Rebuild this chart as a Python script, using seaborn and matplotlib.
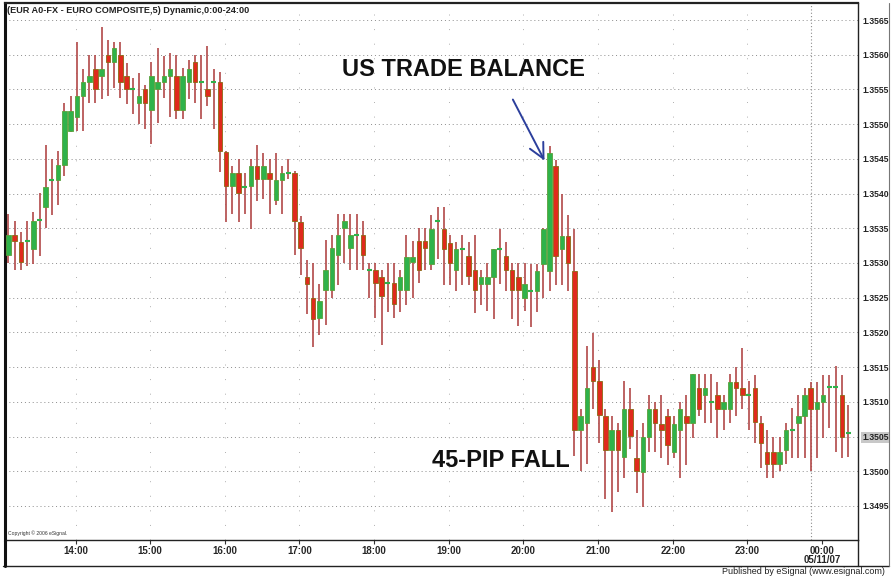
import numpy as np
import pandas as pd
import seaborn as sns
import matplotlib.pyplot as plt
from matplotlib.lines import Line2D

# 5-minute EUR/USD candles, 13:05 -> 00:20
opens = [1.35311, 1.35340, 1.35330, 1.35332, 1.35320, 1.35362, 1.35381, 1.35420, 1.35420, 1.35441,
         1.35490, 1.35510, 1.35540, 1.35560, 1.35579, 1.35569, 1.35600, 1.35590, 1.35600, 1.35569,
         1.35550, 1.35530, 1.35550, 1.35521, 1.35550, 1.35561, 1.35570, 1.35569, 1.35521, 1.35561,
         1.35589, 1.35561, 1.35550, 1.35561, 1.35560, 1.35460, 1.35411, 1.35430, 1.35410, 1.35411,
         1.35440, 1.35421, 1.35430, 1.35391, 1.35420, 1.35430, 1.35430, 1.35359, 1.35280, 1.35250,
         1.35221, 1.35261, 1.35261, 1.35311, 1.35351, 1.35321, 1.35340, 1.35340, 1.35290, 1.35290,
         1.35280, 1.35271, 1.35271, 1.35261, 1.35261, 1.35301, 1.35331, 1.35331, 1.35299, 1.35360,
         1.35349, 1.35329, 1.35290, 1.35320, 1.35310, 1.35290, 1.35270, 1.35270, 1.35280, 1.35320,
         1.35310, 1.35290, 1.35280, 1.35250, 1.35260, 1.35260, 1.35299, 1.35289, 1.35439, 1.35320,
         1.35339, 1.35288, 1.35060, 1.35070, 1.35150, 1.35130, 1.35080, 1.35030, 1.35060, 1.35021,
         1.35090, 1.35019, 1.34999, 1.35050, 1.35089, 1.35068, 1.35079, 1.35028, 1.35060, 1.35079,
         1.35069, 1.35120, 1.35110, 1.35100, 1.35110, 1.35089, 1.35089, 1.35129, 1.35120, 1.35110,
         1.35120, 1.35069, 1.35028, 1.35028, 1.35010, 1.35031, 1.35060, 1.35069, 1.35079, 1.35120,
         1.35089, 1.35100, 1.35121, 1.35121, 1.35110, 1.35055]
highs = [1.35370, 1.35360, 1.35345, 1.35360, 1.35374, 1.35401, 1.35470, 1.35450, 1.35462, 1.35531,
         1.35540, 1.35619, 1.35580, 1.35600, 1.35600, 1.35640, 1.35621, 1.35619, 1.35619, 1.35588,
         1.35567, 1.35574, 1.35557, 1.35590, 1.35610, 1.35598, 1.35602, 1.35600, 1.35581, 1.35593,
         1.35600, 1.35600, 1.35612, 1.35579, 1.35575, 1.35462, 1.35440, 1.35450, 1.35430, 1.35450,
         1.35470, 1.35459, 1.35450, 1.35459, 1.35440, 1.35450, 1.35432, 1.35368, 1.35304, 1.35300,
         1.35270, 1.35333, 1.35340, 1.35371, 1.35371, 1.35371, 1.35371, 1.35361, 1.35300, 1.35300,
         1.35290, 1.35300, 1.35300, 1.35290, 1.35340, 1.35331, 1.35351, 1.35351, 1.35369, 1.35380,
         1.35380, 1.35340, 1.35330, 1.35340, 1.35330, 1.35340, 1.35290, 1.35300, 1.35320, 1.35349,
         1.35330, 1.35300, 1.35300, 1.35300, 1.35299, 1.35299, 1.35350, 1.35468, 1.35449, 1.35399,
         1.35369, 1.35349, 1.35089, 1.35180, 1.35199, 1.35160, 1.35090, 1.35080, 1.35070, 1.35130,
         1.35120, 1.35060, 1.35069, 1.35110, 1.35100, 1.35110, 1.35089, 1.35079, 1.35100, 1.35110,
         1.35140, 1.35140, 1.35140, 1.35140, 1.35129, 1.35110, 1.35140, 1.35150, 1.35177, 1.35130,
         1.35139, 1.35079, 1.35060, 1.35050, 1.35050, 1.35069, 1.35091, 1.35110, 1.35120, 1.35129,
         1.35129, 1.35139, 1.35139, 1.35151, 1.35139, 1.35095]
lows = [1.35300, 1.35290, 1.35290, 1.35295, 1.35298, 1.35310, 1.35350, 1.35369, 1.35383, 1.35426,
        1.35488, 1.35490, 1.35490, 1.35531, 1.35531, 1.35536, 1.35540, 1.35552, 1.35538, 1.35529,
        1.35514, 1.35500, 1.35493, 1.35471, 1.35502, 1.35538, 1.35510, 1.35508, 1.35507, 1.35536,
        1.35531, 1.35507, 1.35526, 1.35493, 1.35431, 1.35359, 1.35371, 1.35359, 1.35371, 1.35349,
        1.35390, 1.35392, 1.35371, 1.35383, 1.35371, 1.35421, 1.35311, 1.35282, 1.35227, 1.35179,
        1.35196, 1.35211, 1.35249, 1.35268, 1.35300, 1.35290, 1.35290, 1.35290, 1.35249, 1.35221,
        1.35182, 1.35230, 1.35221, 1.35230, 1.35240, 1.35249, 1.35271, 1.35290, 1.35290, 1.35306,
        1.35268, 1.35268, 1.35259, 1.35268, 1.35268, 1.35228, 1.35240, 1.35231, 1.35220, 1.35270,
        1.35259, 1.35220, 1.35209, 1.35231, 1.35208, 1.35230, 1.35249, 1.35260, 1.35268, 1.35268,
        1.35259, 1.35022, 1.35001, 1.35010, 1.35090, 1.35041, 1.34960, 1.34941, 1.34970, 1.34991,
        1.35032, 1.34968, 1.34949, 1.35028, 1.35028, 1.35019, 1.35009, 1.35019, 1.34990, 1.35009,
        1.35048, 1.35079, 1.35069, 1.35069, 1.35048, 1.35060, 1.35069, 1.35079, 1.35089, 1.35060,
        1.35040, 1.35004, 1.34990, 1.34990, 1.35000, 1.35010, 1.35019, 1.35019, 1.35019, 1.35000,
        1.35019, 1.35048, 1.35062, 1.35028, 1.35019, 1.35020]
closes = [1.35341, 1.35332, 1.35301, 1.35332, 1.35361, 1.35362, 1.35410, 1.35420, 1.35441, 1.35519,
          1.35519, 1.35540, 1.35560, 1.35569, 1.35551, 1.35580, 1.35590, 1.35610, 1.35561, 1.35551,
          1.35550, 1.35540, 1.35531, 1.35569, 1.35560, 1.35569, 1.35580, 1.35520, 1.35569, 1.35580,
          1.35561, 1.35561, 1.35541, 1.35561, 1.35462, 1.35411, 1.35430, 1.35401, 1.35410, 1.35440,
          1.35421, 1.35440, 1.35421, 1.35420, 1.35430, 1.35430, 1.35360, 1.35321, 1.35270, 1.35220,
          1.35245, 1.35290, 1.35321, 1.35340, 1.35361, 1.35340, 1.35340, 1.35311, 1.35290, 1.35271,
          1.35252, 1.35271, 1.35241, 1.35280, 1.35309, 1.35309, 1.35290, 1.35321, 1.35349, 1.35360,
          1.35320, 1.35300, 1.35320, 1.35320, 1.35281, 1.35261, 1.35280, 1.35280, 1.35320, 1.35320,
          1.35290, 1.35261, 1.35261, 1.35270, 1.35260, 1.35289, 1.35349, 1.35458, 1.35310, 1.35339,
          1.35300, 1.35060, 1.35080, 1.35120, 1.35130, 1.35081, 1.35030, 1.35060, 1.35030, 1.35090,
          1.35051, 1.35000, 1.35050, 1.35089, 1.35069, 1.35060, 1.35038, 1.35068, 1.35089, 1.35069,
          1.35140, 1.35089, 1.35120, 1.35100, 1.35089, 1.35100, 1.35129, 1.35120, 1.35110, 1.35110,
          1.35071, 1.35040, 1.35010, 1.35010, 1.35028, 1.35060, 1.35060, 1.35079, 1.35110, 1.35089,
          1.35100, 1.35110, 1.35121, 1.35121, 1.35050, 1.35055]

hour_labels = ["14:00", "15:00", "16:00", "17:00", "18:00", "19:00",
               "20:00", "21:00", "22:00", "23:00", "00:00\n05/11/07"]
price_ticks = [1.3495, 1.3500, 1.3505, 1.3510, 1.3515, 1.3520, 1.3525, 1.3530,
               1.3535, 1.3540, 1.3545, 1.3550, 1.3555, 1.3560, 1.3565]
last_price_label = "1.3505"

df = pd.DataFrame({"open": opens, "high": highs, "low": lows, "close": closes})
df["x"] = np.arange(len(df))

sns.set_theme(style="white")
plt.rcParams["font.family"] = ["Liberation Sans", "DejaVu Sans"]

fig = plt.figure(figsize=(8.92, 5.8), dpi=100)
ax = fig.add_axes([5 / 892, 1 - 540 / 580, 853 / 892, 537 / 580])

green = "#2fb24a"
red = "#e02a1c"

# Wicks
ax.vlines(df["x"], df["low"], df["high"], color="#b24848", lw=1.2, zorder=2)

# Bodies
up = df[df["close"] > df["open"]]
down = df[df["close"] < df["open"]]
doji = df[df["close"] == df["open"]]
ax.bar(up["x"], up["close"] - up["open"], bottom=up["open"], width=0.72,
       color=green, edgecolor="#5aa03a", lw=0.6, zorder=3)
ax.bar(down["x"], down["open"] - down["close"], bottom=down["close"], width=0.72,
       color=red, edgecolor="#8a6a14", lw=0.6, zorder=3)
ax.hlines(doji["close"], doji["x"] - 0.4, doji["x"] + 0.4, color=green, lw=1.5, zorder=3)

# Axes limits, grid and ticks
ax.set_xlim(-0.55, 136.6)
ax.set_ylim(1.34901, 1.356745)
hour_pos = [10.8 + 12 * k for k in range(len(hour_labels))]
for p in price_ticks:
    ax.axhline(p, color="#8c8c8c", lw=0.7, ls=(0, (1, 3)), zorder=1)
for h in hour_pos[:-1]:
    ax.axvline(h, color="#b0b0b0", lw=0.7, ls=(0, (1, 14)), zorder=1)
ax.axvline(129, color="#8c8c8c", lw=0.8, ls=(0, (1, 2)), zorder=1)

ax.yaxis.tick_right()
ax.set_yticks(price_ticks, labels=[f"{p:.4f}" for p in price_ticks])
ax.tick_params(axis="y", length=0, pad=3, labelsize=6.2, labelcolor="#222222")
for lab in ax.get_yticklabels():
    lab.set_fontweight("bold")
    if lab.get_text() == last_price_label:
        lab.set_bbox(dict(facecolor="#c8c8c8", edgecolor="none", pad=1))
ax.set_xticks(hour_pos, labels=hour_labels)
ax.tick_params(axis="x", length=3, width=0.8, pad=1, labelsize=7, direction="out",
               bottom=True, color="#333333")
for lab in ax.get_xticklabels():
    lab.set_fontweight("bold")
    lab.set_linespacing(0.95)
ax.set_xlabel("")
ax.set_ylabel("")

for side in ["top", "right", "bottom"]:
    ax.spines[side].set_color("#222222")
    ax.spines[side].set_linewidth(1.0)
ax.spines["left"].set_color("#111111")
ax.spines["left"].set_linewidth(2.2)
ax.spines["top"].set_linewidth(1.6)

# Title and annotations
ax.text(0.002, 0.995, "(EUR A0-FX - EURO COMPOSITE,5) Dynamic,0:00-24:00",
        transform=ax.transAxes, ha="left", va="top", fontsize=6.6, fontweight="bold",
        color="#222222")
ax.text(0.004, 0.008, "Copyright \u00a9 2006 eSignal.", transform=ax.transAxes,
        ha="left", va="bottom", fontsize=3.6, color="#333333")

ax.text(73.2, 1.35578, "US TRADE BALANCE", ha="center", va="center", fontsize=17,
        fontweight="bold", color="#111111", zorder=5)
ax.text(79.2, 1.35016, "45-PIP FALL", ha="center", va="center", fontsize=17,
        fontweight="bold", color="#111111", zorder=5)
ax.annotate("", xy=(86.4, highs[87] - 0.00024), xytext=(80.9, 1.35539),
            arrowprops=dict(arrowstyle="->,head_length=0.9,head_width=0.45",
                            color="#2c3f9c", lw=1.4), zorder=5)

# Outer frame pieces below the chart
y_bot = 1 - 566 / 580
fig.add_artist(Line2D([3 / 892, 889 / 892], [y_bot, y_bot], color="#222222", lw=1.0))
fig.add_artist(Line2D([5 / 892, 5 / 892], [y_bot, 1 - 540 / 580], color="#111111", lw=2.2))
fig.add_artist(Line2D([858 / 892, 858 / 892], [y_bot, 1 - 540 / 580], color="#222222", lw=1.0))
fig.add_artist(Line2D([889 / 892, 889 / 892], [y_bot, 1 - 3 / 580], color="#777777", lw=0.8))
fig.text(885 / 892, 1 - 572 / 580, "Published by eSignal (www.esignal.com)", ha="right",
         va="center", fontsize=6.5, color="#222222")

fig.savefig("out.png", dpi=100, facecolor="white")
